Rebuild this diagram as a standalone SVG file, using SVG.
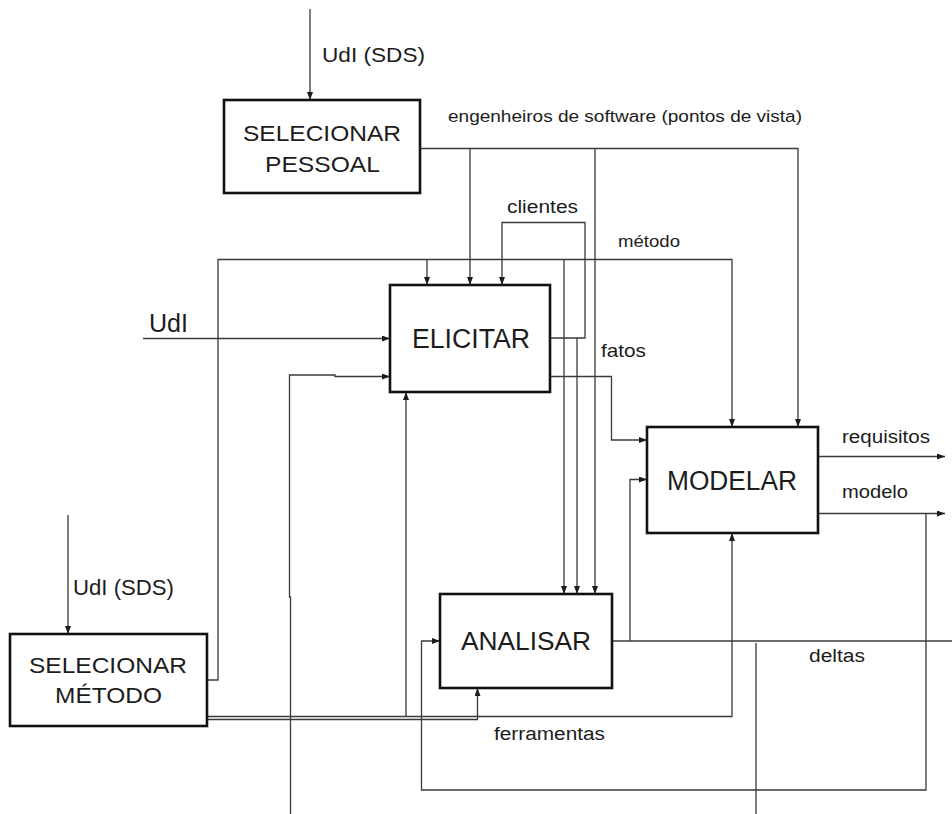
<svg xmlns="http://www.w3.org/2000/svg" width="952" height="814" viewBox="0 0 952 814">
  <defs>
    <style>
      .box { fill: #ffffff; stroke: #111111; stroke-width: 2.6; }
      .lbl { font-family: "Liberation Sans", Arial, sans-serif; fill: #1c1c1c; }
      .node { text-anchor: start; }
      .wire { fill: none; stroke: #3a3a3a; stroke-width: 1.3; }
      .arrow { marker-end: url(#head); }
    </style>
    <marker id="head" viewBox="0 0 8 6" markerUnits="userSpaceOnUse" markerWidth="8" markerHeight="6" refX="8" refY="3" orient="auto">
      <path d="M0,0 L8,3 L0,6 z" fill="#1c1c1c"/>
    </marker>
  </defs>

  <rect width="952" height="814" fill="#ffffff"/>

  <!-- connectors -->
  <g id="connectors">
    <!-- UdI (SDS) into staff selection -->
    <path class="wire arrow" d="M310,9 V100"/>
    <!-- software engineers (viewpoints) -->
    <path class="wire arrow" d="M420,148.5 H798 V427"/>
    <path class="wire arrow" d="M470,148.5 V285"/>
    <path class="wire arrow" d="M595,148.5 V594"/>
    <!-- method -->
    <path class="wire arrow" d="M207,680 H218 V259.5 H732 V427"/>
    <path class="wire arrow" d="M427,259.5 V285"/>
    <path class="wire arrow" d="M564,259.5 V594"/>
    <!-- clients loop and elicitation output -->
    <path class="wire arrow" d="M550,338 H585 V222.5 H502 V285"/>
    <path class="wire arrow" d="M577,338 V594"/>
    <!-- UdI input -->
    <path class="wire arrow" d="M143,338.5 H390"/>
    <!-- input from below into ELICITAR -->
    <path class="wire arrow" d="M290.5,814 V597 H289.5 V375 H335 V376.5 H390"/>
    <!-- facts -->
    <path class="wire arrow" d="M550,376.5 H611.5 V440 H647"/>
    <!-- deltas -->
    <path class="wire" d="M612,641 H952"/>
    <path class="wire arrow" d="M630,641 V479.5 H647"/>
    <path class="wire" d="M756,643 V814"/>
    <!-- requirements and model -->
    <path class="wire arrow" d="M818,456.5 H945"/>
    <path class="wire arrow" d="M818,513.5 H945"/>
    <path class="wire arrow" d="M926,513.5 V790 H421.5 V641 H440"/>
    <!-- tools -->
    <path class="wire arrow" d="M207,716.5 H732 V533"/>
    <path class="wire arrow" d="M207,719.5 H477.5 V688"/>
    <path class="wire arrow" d="M406,717 V392"/>
    <!-- UdI (SDS) into method selection -->
    <path class="wire arrow" d="M68,515 V634"/>
  </g>

  <!-- nodes -->
  <g id="selecionar-pessoal">
    <rect class="box" x="224" y="100" width="196" height="93"/>
    <text class="lbl" x="243" y="141" font-size="22" textLength="158" lengthAdjust="spacingAndGlyphs">SELECIONAR</text>
    <text class="lbl" x="265" y="172" font-size="22" textLength="115" lengthAdjust="spacingAndGlyphs">PESSOAL</text>
  </g>

  <g id="elicitar">
    <rect class="box" x="390" y="285" width="160" height="107"/>
    <text class="lbl" x="412" y="348" font-size="27" textLength="118" lengthAdjust="spacingAndGlyphs">ELICITAR</text>
  </g>

  <g id="modelar">
    <rect class="box" x="647" y="427" width="171" height="106"/>
    <text class="lbl" x="667" y="490" font-size="27" textLength="130" lengthAdjust="spacingAndGlyphs">MODELAR</text>
  </g>

  <g id="analisar">
    <rect class="box" x="440" y="594" width="172" height="94"/>
    <text class="lbl" x="461" y="650" font-size="26" textLength="130" lengthAdjust="spacingAndGlyphs">ANALISAR</text>
  </g>

  <g id="selecionar-metodo">
    <rect class="box" x="10" y="634" width="197" height="92"/>
    <text class="lbl" x="29" y="673" font-size="22" textLength="158" lengthAdjust="spacingAndGlyphs">SELECIONAR</text>
    <text class="lbl" x="55" y="703" font-size="22" textLength="107" lengthAdjust="spacingAndGlyphs">MÉTODO</text>
  </g>

  <!-- connector labels -->
  <g id="labels">
    <text class="lbl" x="322" y="62" font-size="21" textLength="103" lengthAdjust="spacingAndGlyphs">UdI (SDS)</text>
    <text class="lbl" x="448" y="122" font-size="16" textLength="354" lengthAdjust="spacingAndGlyphs">engenheiros de software (pontos de vista)</text>
    <text class="lbl" x="507" y="213" font-size="18" textLength="71" lengthAdjust="spacingAndGlyphs">clientes</text>
    <text class="lbl" x="618" y="247" font-size="16" textLength="62" lengthAdjust="spacingAndGlyphs">método</text>
    <text class="lbl" x="149" y="332" font-size="25" textLength="39" lengthAdjust="spacingAndGlyphs">UdI</text>
    <text class="lbl" x="601" y="357" font-size="19" textLength="45" lengthAdjust="spacingAndGlyphs">fatos</text>
    <text class="lbl" x="842" y="443" font-size="18" textLength="88" lengthAdjust="spacingAndGlyphs">requisitos</text>
    <text class="lbl" x="842" y="498" font-size="18" textLength="66" lengthAdjust="spacingAndGlyphs">modelo</text>
    <text class="lbl" x="73" y="595" font-size="22" textLength="101" lengthAdjust="spacingAndGlyphs">UdI (SDS)</text>
    <text class="lbl" x="809" y="662" font-size="18" textLength="56" lengthAdjust="spacingAndGlyphs">deltas</text>
    <text class="lbl" x="494" y="740" font-size="18" textLength="111" lengthAdjust="spacingAndGlyphs">ferramentas</text>
  </g>
</svg>
